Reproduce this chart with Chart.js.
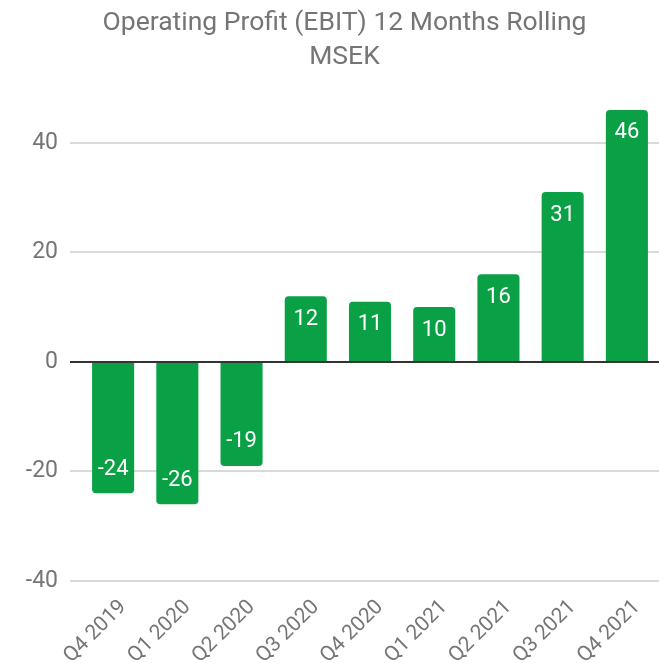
<!DOCTYPE html>
<html>
<head>
<meta charset="utf-8">
<script src="https://cdn.jsdelivr.net/npm/chart.js@4/dist/chart.umd.min.js"></script>
<style>
  html, body { margin: 0; padding: 0; background: #ffffff; overflow: hidden; }
  #wrap { position: relative; width: 659px; height: 663px; }
</style>
</head>
<body>
<div id="wrap"><canvas id="c" width="659" height="663"></canvas></div>
<script>
const categories = ["Q4 2019", "Q1 2020", "Q2 2020", "Q3 2020", "Q4 2020", "Q1 2021", "Q2 2021", "Q3 2021", "Q4 2021"];
const ebitValues = [-24, -26, -19, 12, 11, 10, 16, 31, 46];
const yTickValues = [-40, -20, 0, 20, 40];
const titleLines = ["Operating Profit (EBIT) 12 Months Rolling", "MSEK"];

const FONT = "Roboto, 'Noto Sans', Arial, sans-serif";
const BAR_GREEN = "#0aa146";
const TEXT_GREY = "#757575";

// Title drawn as canvas text, centred where the source chart had it
const titleText = {
  id: "titleText",
  afterDraw(chart) {
    const ctx = chart.ctx;
    ctx.save();
    ctx.fillStyle = TEXT_GREY;
    ctx.font = "26.5px " + FONT;
    ctx.textAlign = "center";
    ctx.textBaseline = "middle";
    titleLines.forEach((line, i) => ctx.fillText(line, 344.5, 23 + i * 34));
    ctx.restore();
  }
};

const valueLabels = {
  id: "valueLabels",
  afterDatasetsDraw(chart) {
    const ctx = chart.ctx;
    const meta = chart.getDatasetMeta(0);
    ctx.save();
    ctx.fillStyle = "#ffffff";
    ctx.font = "22px " + FONT;
    ctx.textAlign = "center";
    ctx.textBaseline = "middle";
    meta.data.forEach((bar, i) => {
      const v = chart.data.datasets[0].data[i];
      const y = v >= 0 ? bar.y + 23 : bar.y - 24;
      ctx.fillText(String(v), bar.x, y);
    });
    ctx.restore();
  }
};

new Chart(document.getElementById("c"), {
  type: "bar",
  data: {
    labels: categories,
    datasets: [{
      data: ebitValues,
      backgroundColor: BAR_GREEN,
      borderRadius: 4,
      borderSkipped: "start",
      barPercentage: 0.655,
      categoryPercentage: 1
    }]
  },
  options: {
    responsive: false,
    animation: false,
    devicePixelRatio: 1,
    layout: { padding: { top: 88, right: 0, left: 0, bottom: 0 } },
    plugins: {
      legend: { display: false },
      tooltip: { enabled: false },
      title: { display: false }
    },
    scales: {
      x: {
        grid: { display: false, drawTicks: false },
        border: { display: false },
        ticks: {
          color: TEXT_GREY,
          font: { family: FONT, size: 21 },
          minRotation: 45,
          maxRotation: 45,
          padding: 14,
          labelOffset: 10,
          autoSkip: false
        },
        afterFit(scale) { scale.height = 82; }
      },
      y: {
        min: -40,
        max: 50,
        afterBuildTicks(scale) { scale.ticks = yTickValues.map(v => ({ value: v })); },
        border: { display: false },
        grid: {
          color: ctx => (ctx.tick && ctx.tick.value === 0) ? "#333333" : "#d9d9d9",
          lineWidth: 2,
          drawTicks: true,
          tickLength: 11
        },
        ticks: {
          color: TEXT_GREY,
          font: { family: FONT, size: 23 },
          padding: 12
        },
        afterFit(scale) { scale.width = 81; }
      }
    }
  },
  plugins: [valueLabels, titleText]
});
</script>
</body>
</html>
